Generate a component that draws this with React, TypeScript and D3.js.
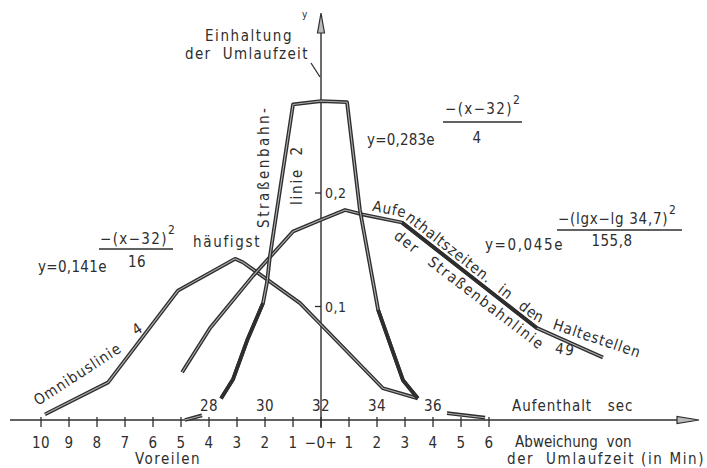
import React, { useEffect, useRef } from "react";
import * as d3 from "d3";

type Pt = [number, number];

// x: Abweichung von der Umlaufzeit (min), y: Häufigkeit
const minuteTicks = [-10, -9, -8, -7, -6, -5, -4, -3, -2, -1, 0, 1, 2, 3, 4, 5, 6];
const minuteLabels = ["10", "9", "8", "7", "6", "5", "4", "3", "2", "1", "−0+", "1", "2", "3", "4", "5", "6"];
const secondTicks = [28, 30, 32, 34, 36];
const yTicks = [0.1, 0.2];
const yTickLabels = ["0,1", "0,2"];

const strassenbahn2: Pt[] = [
  [-3.57, 0.019], [-3.14, 0.036], [-2.64, 0.07], [-2.07, 0.103], [-1.93, 0.121],
  [-1.82, 0.145], [-1.0, 0.278], [0, 0.281], [0.93, 0.28], [1.39, 0.185],
  [2.04, 0.097], [2.93, 0.035], [3.46, 0.019],
];
const omnibus4: Pt[] = [
  [-9.86, 0.005], [-7.61, 0.033], [-5.11, 0.114], [-3.07, 0.142], [-2.79, 0.139],
  [-0.75, 0.103], [-0.04, 0.085], [2.21, 0.028], [3.46, 0.019],
];
const aufenthalt49: Pt[] = [
  [-4.96, 0.042], [-3.96, 0.081], [-2.43, 0.127], [-1.0, 0.166], [-0.04, 0.176],
  [0.86, 0.185], [1.5, 0.181], [2.89, 0.174], [7.71, 0.081], [10.07, 0.055],
];
const tailLeft: Pt[] = [[-4.86, 0.0], [-4.25, 0.004]];
const tailRight: Pt[] = [[4.5, 0.006], [5.86, 0.002]];

// guide paths for the curved labels
const aufLabelPath: Pt[] = [[1.5, 0.186], [2.89, 0.179], [7.54, 0.089], [8.29, 0.08], [11.8, 0.051]];
const derLabelPath: Pt[] = [[2.54, 0.161], [7.82, 0.061], [10.0, 0.053]];

const FONT = "'DejaVu Sans Condensed', 'DejaVu Sans', sans-serif";
const INK = "#2e2e2e";

export default function App() {
  const ref = useRef<SVGSVGElement>(null);

  useEffect(() => {
    const svg = d3.select(ref.current);
    svg.selectAll("*").remove();

    const x = d3.scaleLinear().domain([-10, 6]).range([41, 489]);
    const sec = d3.scaleLinear().domain([28, 36]).range([x(-4), x(4)]);
    const y = d3.scaleLinear().domain([0, 0.2]).range([420, 193]);
    const line = d3.line<Pt>().x((d) => x(d[0])).y((d) => y(d[1]));

    const g = svg.append("g");
    const x0 = x(0);
    const y0 = y(0);

    // axes
    g.append("line").attr("x1", 10).attr("x2", 680).attr("y1", y0).attr("y2", y0)
      .attr("stroke", INK).attr("stroke-width", 1.4);
    g.append("polygon")
      .attr("points", `699,${y0} 677,${y0 - 3.5} 677,${y0 + 3.5}`)
      .attr("fill", "#bbb").attr("stroke", INK).attr("stroke-width", 1.2);
    g.append("line").attr("x1", x0).attr("x2", x0).attr("y1", 30).attr("y2", 428)
      .attr("stroke", INK).attr("stroke-width", 1.4);
    g.append("polygon")
      .attr("points", `${x0},13 ${x0 - 3.5},33 ${x0 + 3.5},33`)
      .attr("fill", "#bbb").attr("stroke", INK).attr("stroke-width", 1.2);

    g.selectAll(".xt").data(minuteTicks).enter().append("line")
      .attr("x1", (d) => x(d)).attr("x2", (d) => x(d))
      .attr("y1", y0 - 3).attr("y2", y0 + 7)
      .attr("stroke", INK).attr("stroke-width", 1.3);
    g.selectAll(".yt").data(yTicks).enter().append("line")
      .attr("x1", x0 - 6).attr("x2", x0).attr("y1", (d) => y(d)).attr("y2", (d) => y(d))
      .attr("stroke", INK).attr("stroke-width", 1.3);

    const text = (t: string, tx: number, ty: number, size = 15, anchor = "start", len?: number) => {
      const el = g.append("text").attr("x", tx).attr("y", ty).text(t)
        .attr("font-family", FONT).attr("font-size", size).attr("fill", INK)
        .attr("text-anchor", anchor).attr("letter-spacing", 0.5)
        .style("white-space", "pre");
      if (len) el.attr("textLength", len).attr("lengthAdjust", "spacing");
      return el;
    };

    minuteTicks.forEach((d, i) => text(minuteLabels[i], x(d), 448, 15, "middle"));
    secondTicks.forEach((d) => text(String(d), sec(d), 411, 15, "middle"));
    yTicks.forEach((d, i) => text(yTickLabels[i], x0 + 4, y(d) + 5, 14));

    // curves: dark outline with a light core (double-stroke look)
    const curve = (pts: Pt[], solid: [number, number][]) => {
      g.append("path").attr("d", line(pts)).attr("fill", "none").attr("stroke", INK)
        .attr("stroke-width", 3.8).attr("stroke-linejoin", "round");
      g.append("path").attr("d", line(pts)).attr("fill", "none").attr("stroke", "#b0b0b0")
        .attr("stroke-width", 1.1).attr("stroke-linejoin", "round");
      solid.forEach(([a, b]) =>
        g.append("path").attr("d", line(pts.slice(a, b + 1))).attr("fill", "none")
          .attr("stroke", INK).attr("stroke-width", 3.6).attr("stroke-linejoin", "round"));
    };
    curve(omnibus4, []);
    curve(aufenthalt49, [[7, 8]]);
    curve(strassenbahn2, [[0, 3], [10, 12]]);
    curve(tailLeft, []);
    curve(tailRight, []);

    // curved labels
    const defs = svg.append("defs");
    defs.append("path").attr("id", "aufPath").attr("d", line(aufLabelPath));
    defs.append("path").attr("id", "derPath").attr("d", line(derLabelPath));
    const onPath = (id: string, t: string, off: number, ls: number, ws: number) =>
      g.append("text").attr("font-family", FONT).attr("font-size", 15).attr("fill", INK)
        .attr("letter-spacing", ls).attr("word-spacing", ws)
        .append("textPath").attr("href", `#${id}`).attr("startOffset", off).text(t);
    onPath("aufPath", "Aufenthaltszeiten. in den Haltestellen", 9, 0.9, 7);
    onPath("derPath", "der Straßenbahnlinie 49", 1, 1.7, 9);

    // rotated labels
    const rot = (t: string, tx: number, ty: number, angle: number, len: number, anchor = "middle") =>
      g.append("text").attr("transform", `translate(${tx},${ty}) rotate(${angle})`)
        .attr("dy", anchor === "middle" ? "0.35em" : 0)
        .attr("text-anchor", anchor).attr("font-family", FONT).attr("font-size", 15)
        .attr("fill", INK).attr("textLength", len).attr("lengthAdjust", "spacing")
        .style("white-space", "pre").text(t);
    rot("Straßenbahn-", 264, 168, -90, 120);
    rot("linie  2", 297, 176, -90, 58);
    rot("Omnibuslinie", 38, 406, -33, 100, "start");
    rot("4", 137, 329, -33, 9);

    // axis titles
    text("y", 302, 18, 10);
    text("Einhaltung", 205, 41, 15, "start", 87);
    text("der  Umlaufzeit", 185, 59, 15, "start", 123);
    g.append("line").attr("x1", 311).attr("y1", 63).attr("x2", 320).attr("y2", 77)
      .attr("stroke", INK).attr("stroke-width", 1.3);
    text("Voreilen", 135, 464, 15, "start", 65);
    text("Abweichung  von", 515, 447, 15, "start", 117);
    text("der  Umlaufzeit (in Min)", 507, 464, 15, "start", 197);
    text("Aufenthalt   sec", 512, 411, 15, "start", 121);
    text("häufigst", 193, 247, 15, "start", 67);

    // formulas
    const frac = (num: string, numLen: number, den: string, nx: number, ny: number,
      barX1: number, barX2: number, barY: number, dx: number, dy: number) => {
      text(num, nx, ny, 15, "start", numLen);
      text("2", nx + numLen + 1, ny - 10, 12);
      g.append("line").attr("x1", barX1).attr("x2", barX2).attr("y1", barY).attr("y2", barY)
        .attr("stroke", INK).attr("stroke-width", 1.4);
      text(den, dx, dy, 15, "middle");
    };
    text("y=0,141e", 38, 272, 15, "start", 69);
    frac("−(x−32)", 67, "16", 100, 244, 99, 173, 249, 137, 267);
    text("y=0,283e", 367, 145, 15, "start", 68);
    frac("−(x−32)", 67, "4", 445, 114, 443, 522, 122, 477, 143);
    text("y=0,045e", 485, 250, 15, "start", 78);
    frac("−(lgx−lg 34,7)", 110, "155,8", 558, 224, 557, 682, 230, 612, 246);
  }, []);

  return (
    <svg ref={ref} width={707} height={468}
      style={{ position: "absolute", left: 0, top: 0, background: "#fff" }} />
  );
}
